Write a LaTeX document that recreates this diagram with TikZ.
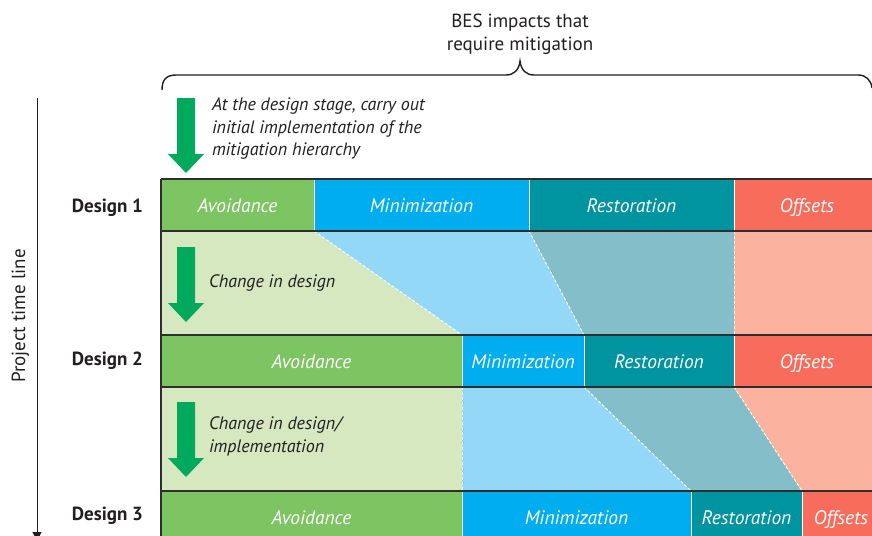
\documentclass[tikz,border=0pt]{standalone}
\usepackage{fontspec}
\setmainfont{PT Sans}
\usetikzlibrary{arrows.meta}
\definecolor{inkc}{HTML}{231F20}
\definecolor{rulec}{HTML}{2E2E2E}
\definecolor{gcell}{HTML}{7DC462}
\definecolor{gband}{HTML}{D5E8C0}
\definecolor{bcell}{HTML}{00AEEF}
\definecolor{bband}{HTML}{93D9F7}
\definecolor{tcell}{HTML}{0093A0}
\definecolor{tband}{HTML}{83BEC9}
\definecolor{ocell}{HTML}{F76C5A}
\definecolor{oband}{HTML}{FBB29E}
\definecolor{arrg}{HTML}{00A95C}
\tikzset{
  cell/.style={draw=white, line width=0.9pt, minimum height=52pt, anchor=north west,
    inner sep=0pt, outer sep=0pt, text height=16pt, text depth=2pt, text=white,
    font=\itshape\fontsize{19.5}{22}\selectfont},
  rule/.style={draw=rulec, line width=1.3pt},
  seam/.style={draw=white, line width=0.9pt, dash pattern=on 3pt off 2pt},
  note/.style={inner sep=0pt, outer sep=0pt, text=inkc, align=left, font=\itshape\fontsize{18}{22.5}\selectfont},
  plain/.style={inner sep=0pt, outer sep=0pt, text=inkc, font=\fontsize{19}{23}\selectfont},
  dlabel/.style={inner sep=0pt, outer sep=0pt, text=inkc, anchor=base east, font=\bfseries\fontsize{19}{22}\selectfont},
  garr/.pic={\fill[arrg] (-9,0) -- (9,0) -- (9,56) -- (18,56) -- (0,75) -- (-18,56) -- (-9,56) -- cycle;}
}
\begin{document}
\begin{tikzpicture}[x=1pt, y=-1pt]
\clip (0,0) rectangle (872,535);
\fill[white] (0,0) rectangle (872,535);
% rows of cells
\node[cell, fill=gcell, minimum width=153pt] (a1) at (161,179) {Avoidance};
\node[cell, fill=bcell, minimum width=215pt] (m1) at (314,179) {Minimization};
\node[cell, fill=tcell, minimum width=205pt] (r1) at (529,179) {Restoration};
\node[cell, fill=ocell, minimum width=146pt] (o1) at (734,179) {Offsets};
\node[cell, fill=gcell, minimum width=301pt] (a2) at (161,335) {Avoidance};
\node[cell, fill=bcell, minimum width=122pt] (m2) at (462,335) {Minimization};
\node[cell, fill=tcell, minimum width=150pt] (r2) at (584,335) {Restoration};
\node[cell, fill=ocell, minimum width=146pt] (o2) at (734,335) {Offsets};
\node[cell, fill=gcell, minimum width=301pt] (a3) at (161,491) {Avoidance};
\node[cell, fill=bcell, minimum width=229pt] (m3) at (462,491) {Minimization};
\node[cell, fill=tcell, minimum width=111pt] (r3) at (691,491) {Restoration};
\node[cell, fill=ocell, minimum width=78pt] (o3) at (802,491) {Offsets};
% transition bands
\fill[gband] (a1.south west) -- (a1.south east) -- (a2.north east) -- (a2.north west) -- cycle;
\fill[bband] (m1.south west) -- (m1.south east) -- (m2.north east) -- (m2.north west) -- cycle;
\fill[tband] (r1.south west) -- (r1.south east) -- (r2.north east) -- (r2.north west) -- cycle;
\fill[oband] (o1.south west) -- (o1.south east) -- (o2.north east) -- (o2.north west) -- cycle;
\fill[gband] (a2.south west) -- (a2.south east) -- (a3.north east) -- (a3.north west) -- cycle;
\fill[bband] (m2.south west) -- (m2.south east) -- (m3.north east) -- (m3.north west) -- cycle;
\fill[tband] (r2.south west) -- (r2.south east) -- (r3.north east) -- (r3.north west) -- cycle;
\fill[oband] (o2.south west) -- (o2.south east) -- (o3.north east) -- (o3.north west) -- cycle;
% dashed seams
\draw[seam] (a1.south east) -- (a2.north east);
\draw[seam] (m1.south east) -- (m2.north east);
\draw[seam] (r1.south east) -- (r2.north east);
\draw[seam] (a2.south east) -- (a3.north east);
\draw[seam] (m2.south east) -- (m3.north east);
\draw[seam] (r2.south east) -- (r3.north east);
% dark rules
\draw[rule] (a1.north west) -- (o1.north east);
\draw[rule] (a1.south west) -- (o1.south east);
\draw[rule] (a2.north west) -- (o2.north east);
\draw[rule] (a2.south west) -- (o2.south east);
\draw[rule] (a3.north west) -- (o3.north east);
\draw[rule] (a1.north west) -- (a3.south west);
% green arrows
\pic at (186,98) {garr};
\pic at (186,247) {garr};
\pic at (186,402) {garr};
% notes
\node[note, anchor=north west] (n1) at (212,98) {At the design stage, carry out\\initial implementation of the\\mitigation hierarchy};
\node[note, anchor=base west] (n2) at (209,287) {Change in design};
\node[note, anchor=north west] (n3) at (209,417) {Change in design/\\implementation};
% brace and title
\node[plain, anchor=north, align=center] (bes) at (520,14) {BES impacts that\\require mitigation};
\draw[draw=inkc, line width=1.4pt] (162,90) .. controls (162,80) and (166,75) .. (176,75) -- (506,75)
  .. controls (514,75) and (519,70) .. (520,61) .. controls (521,70) and (526,75) .. (534,75)
  -- (858,75) .. controls (866,75) and (871,80) .. (872,88);
% design labels
\node[dlabel] (d1) at (143,212) {Design 1};
\node[dlabel] (d2) at (143,365) {Design 2};
\node[dlabel] (d3) at (143,520) {Design 3};
% time line
\coordinate (tl0) at (37,98);
\coordinate (tl1) at (37,541);
\draw[draw=inkc, line width=1pt, -{Triangle[width=9pt,length=9pt]}] (tl0) -- (tl1);
\node[plain, rotate=90, anchor=base] (ptl) at (25,316) {Project time line};
\end{tikzpicture}
\end{document}
